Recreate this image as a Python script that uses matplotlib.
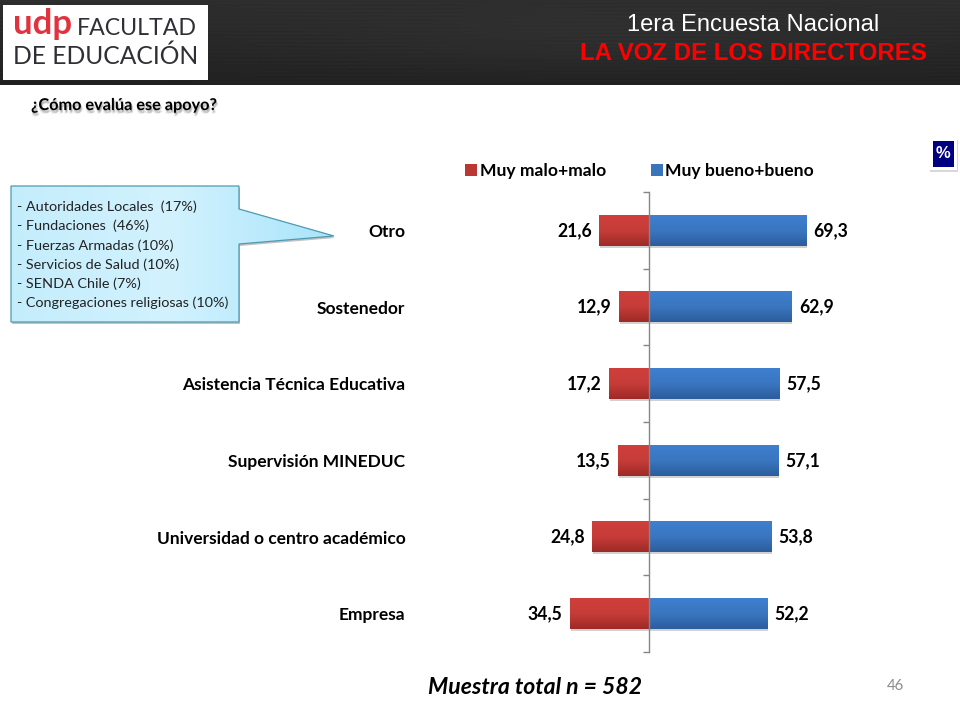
import numpy as np
import matplotlib
matplotlib.use("Agg")
import matplotlib.pyplot as plt
import matplotlib.patheffects as pe
from matplotlib.patches import Polygon, Rectangle, Patch
from matplotlib.colors import LinearSegmentedColormap
from matplotlib.ticker import FixedLocator

categories = ["Otro", "Sostenedor", "Asistencia Técnica Educativa", "Supervisión MINEDUC",
              "Universidad o centro académico", "Empresa"]
malo = [21.6, 12.9, 17.2, 13.5, 24.8, 34.5]
bueno = [69.3, 62.9, 57.5, 57.1, 53.8, 52.2]
series_names = ["Muy malo+malo", "Muy bueno+bueno"]
callout_lines = ["- Autoridades Locales  (17%)", "- Fundaciones  (46%)", "- Fuerzas Armadas (10%)",
                 "- Servicios de Salud (10%)", "- SENDA Chile (7%)", "- Congregaciones religiosas (10%)"]

W, H = 960, 720
BODY = "Lato"
fig = plt.figure(figsize=(W/100, H/100), dpi=100, facecolor="white")

# page overlay in pixel coordinates
bg = fig.add_axes([0, 0, 1, 1], zorder=0)
bg.set_xlim(0, W); bg.set_ylim(H, 0); bg.axis("off")

# header
yy = np.linspace(0, 1, 85)
xx = np.linspace(0, 1, 480)
grid = 0.18 - 0.05*yy[:, None] + 0.025*np.exp(-((xx[None, :]-0.62)/0.3)**2)*np.sin(np.pi*yy[:, None])
grid = grid + 0.006*np.sin(yy[:, None]*140)*np.cos(xx[None, :]*9)
bg.imshow(grid, cmap="gray", vmin=0, vmax=1, extent=(0, W, 85, 0), aspect="auto", zorder=1)
bg.set_xlim(0, W); bg.set_ylim(H, 0)

# logo
bg.add_patch(Rectangle((3, 5), 205, 75, fc="white", ec="none", zorder=2))
bg.text(13, 34, "udp", color="#e0323f", fontsize=25, family="Lato", weight="bold", va="baseline", zorder=3)
bg.text(77, 35, "FACULTAD", color="#2f2f35", fontsize=16.7, family="Lato", weight="normal", va="baseline", zorder=3)
bg.text(13, 64, "DE EDUCACIÓN", color="#2f2f35", fontsize=17.7, family="Lato", weight="normal", va="baseline", zorder=3)

# titles
bg.text(753, 25, "1era Encuesta Nacional", color="white", fontsize=17.1, family="Liberation Sans",
        ha="center", va="center", zorder=3)
bg.text(753, 54, "LA VOZ DE LOS DIRECTORES", color="#ff0000", fontsize=17.25, family="Liberation Sans",
        weight="bold", ha="center", va="center", zorder=3)

# question
bg.text(31, 106, "¿Cómo evalúa ese apoyo?", color="black", fontsize=11.7, family=BODY, weight="bold",
        va="center", zorder=3,
        path_effects=[pe.SimplePatchShadow(offset=(0.5, -1.0), shadow_rgbFace="#000000", alpha=0.18),
                      pe.SimplePatchShadow(offset=(1.2, -2.0), shadow_rgbFace="#000000", alpha=0.14),
                      pe.SimplePatchShadow(offset=(0.2, -2.6), shadow_rgbFace="#000000", alpha=0.10),
                      pe.Normal()])

# percent badge
bg.add_patch(Rectangle((930, 140), 28, 32, fc="#d8d8d8", ec="none", zorder=2))
bg.add_patch(Rectangle((929, 138), 28, 32, fc="white", ec="none", zorder=2))
bg.add_patch(Rectangle((933, 141), 21, 26, fc="#000080", ec="none", zorder=3))
bg.text(943.5, 153, "%", color="white", fontsize=12, family="Liberation Sans", weight="bold",
        ha="center", va="center", zorder=4)

# callout
pts = [(11, 186), (239, 186), (239, 209), (334, 236), (239, 244), (239, 322), (11, 322)]
shadow = Polygon([(x+1, y+2) for x, y in pts], fc="#9a9a9a", ec="none", alpha=0.6, zorder=2)
bg.add_patch(shadow)
cm = LinearSegmentedColormap.from_list("c", ["#c4edfc", "#d2f2fe", "#a9e4fb"])
img = bg.imshow(np.linspace(0, 1, 256)[None, :], cmap=cm, extent=(11, 334, 322, 186), aspect="auto", zorder=3)
poly = Polygon(pts, fc="none", ec="#4f9ab0", lw=0.9, zorder=4)
bg.add_patch(poly)
img.set_clip_path(poly)
bg.set_xlim(0, W); bg.set_ylim(H, 0)
for i, line in enumerate(callout_lines):
    bg.text(17, 207 + i*19.2, line, color="#222222", fontsize=10.4, family=BODY, va="center", zorder=5)

# footer
bg.text(428, 687, "Muestra total n = 582", color="black", fontsize=16.6, family=BODY, weight="bold",
        style="italic", va="center", zorder=3)
bg.text(895, 686, "46", color="#8c8c8c", fontsize=10.8, family=BODY, ha="center", va="center", zorder=3)

# chart: x -100..100 over 421.5..875.5 px, y over 192..652 px
ax = fig.add_axes([421.5/W, 1-652/H, 454/W, 460/H], zorder=2)
ax.patch.set_alpha(0)
y = np.arange(len(categories)) + 0.5
h = 0.4
RED = "#bb3733"; BLUE = "#3a74bb"
shadow_fx = [pe.SimplePatchShadow(offset=(0.7, -1.5), shadow_rgbFace="#9a9a9a", alpha=0.45), pe.Normal()]
bars_m = ax.barh(y, [-v for v in malo], height=h, color=RED, label=series_names[0], zorder=2, path_effects=shadow_fx)
bars_b = ax.barh(y, bueno, height=h, color=BLUE, label=series_names[1], zorder=2, path_effects=shadow_fx)
ax.set_xlim(-100, 100)
ax.set_ylim(len(categories), 0)

cm_r = LinearSegmentedColormap.from_list("r", ["#cf3f3c", "#c63c38", "#9e2a27"])
cm_b = LinearSegmentedColormap.from_list("b", ["#3e7fcf", "#3a76c0", "#2c5d9c"])
grad = np.linspace(0, 1, 64)[:, None]
for bars, cmap in ((bars_m, cm_r), (bars_b, cm_b)):
    for b in bars:
        x0, x1 = sorted((b.get_x(), b.get_x()+b.get_width()))
        y0, y1 = b.get_y(), b.get_y()+b.get_height()
        ax.imshow(grad, cmap=cmap, extent=(x0, x1, y1, y0), aspect="auto", zorder=2.5)
ax.set_xlim(-100, 100)
ax.set_ylim(len(categories), 0)

fmt = lambda v: f"{v:.1f}".replace(".", ",")
lab = dict(fontsize=12.7, family=BODY, weight="bold", color="black", padding=5.5)
ax.bar_label(bars_m, labels=[fmt(v) for v in malo], **lab)
ax.bar_label(bars_b, labels=[fmt(v) for v in bueno], **lab)

for s in ("top", "right", "bottom"):
    ax.spines[s].set_visible(False)
ax.spines["left"].set_position(("data", 0))
ax.spines["left"].set_color("#868686")
ax.spines["left"].set_linewidth(1)
ax.spines["left"].set_zorder(3)
ax.xaxis.set_visible(False)
ax.set_yticks(y)
ax.set_yticklabels(categories, family=BODY, weight="bold", fontsize=12.5, color="black")
ax.yaxis.set_minor_locator(FixedLocator(np.arange(len(categories)+1)))
ax.tick_params(axis="y", which="major", length=0, pad=175)
ax.tick_params(axis="y", which="minor", length=4.5, width=1, color="#868686")

handles = [Patch(fc=RED, ec="none"), Patch(fc=BLUE, ec="none")]
ax.legend(handles, series_names, loc="center", bbox_to_anchor=(639.5/W, 1-171/H), bbox_transform=fig.transFigure,
          ncol=2, frameon=False, prop=dict(family=BODY, weight="bold", size=12.6),
          handlelength=0.7, handleheight=0.7, handletextpad=0.15, columnspacing=2.55)

fig.savefig("out.png", dpi=100)
